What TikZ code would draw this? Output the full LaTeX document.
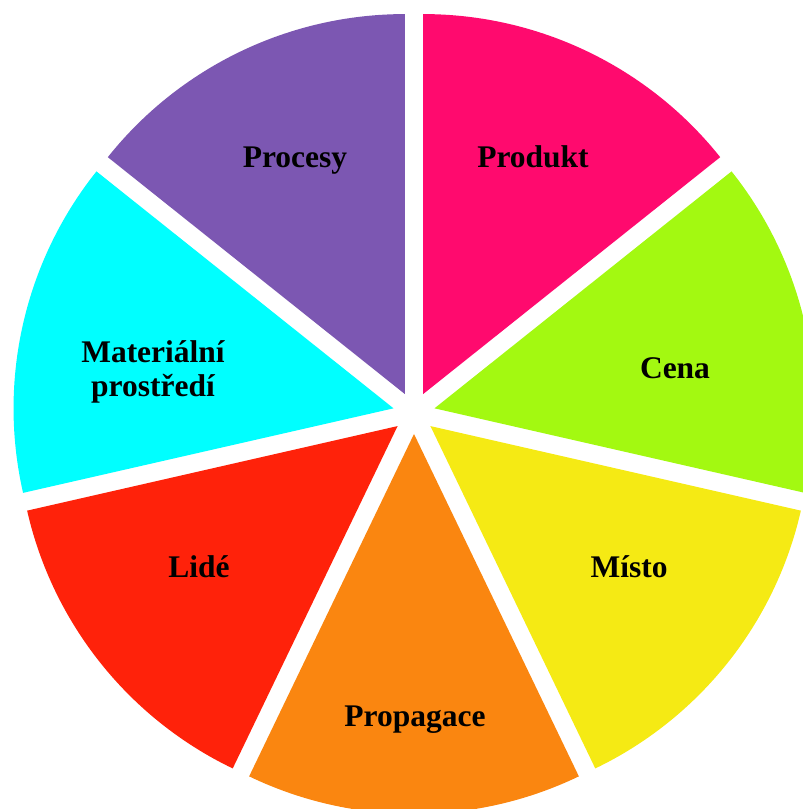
\documentclass[tikz,border=0pt]{standalone}
\usepackage{fontspec}
\setmainfont{Liberation Serif}
\definecolor{cProdukt}{RGB}{255,10,110}
\definecolor{cCena}{RGB}{163,249,17}
\definecolor{cMisto}{RGB}{245,234,20}
\definecolor{cPropagace}{RGB}{250,134,16}
\definecolor{cLide}{RGB}{255,34,10}
\definecolor{cMaterial}{RGB}{0,255,255}
\definecolor{cProcesy}{RGB}{124,87,178}
\begin{document}
\begin{tikzpicture}[x=1pt,y=1pt,
  lab/.style={font=\fontsize{31.5}{34}\selectfont\bfseries, align=center, text=black, inner sep=0pt}]
\useasboundingbox (0,0) rectangle (803,809);
\clip (0,0) rectangle (803,809);
\foreach \a/\c in {38.5714/cProdukt, -12.8571/cCena, -64.2857/cMisto, -115.7143/cPropagace, -167.1429/cLide, 141.4286/cMaterial, 90/cProcesy} {
  \pgfmathsetmacro\b{\a+51.4286}
  \pgfmathsetmacro\m{\a+25.7143}
  \fill[\c, shift={(414,396)}, shift={(\m:21pt)}] (0,0) -- (\a:380pt) arc[start angle=\a, end angle=\b, radius=380pt] -- cycle;
}
\node[lab] (produkt) at (533,652) {Produkt};
\node[lab] (cena) at (675,441) {Cena};
\node[lab] (misto) at (629,242) {Místo};
\node[lab] (propagace) at (415,89) {Propagace};
\node[lab] (lide) at (199,242) {Lidé};
\node[lab] (material) at (153,437) {Materiální\\prostředí};
\node[lab] (procesy) at (295,648) {Procesy};
\end{tikzpicture}
\end{document}
